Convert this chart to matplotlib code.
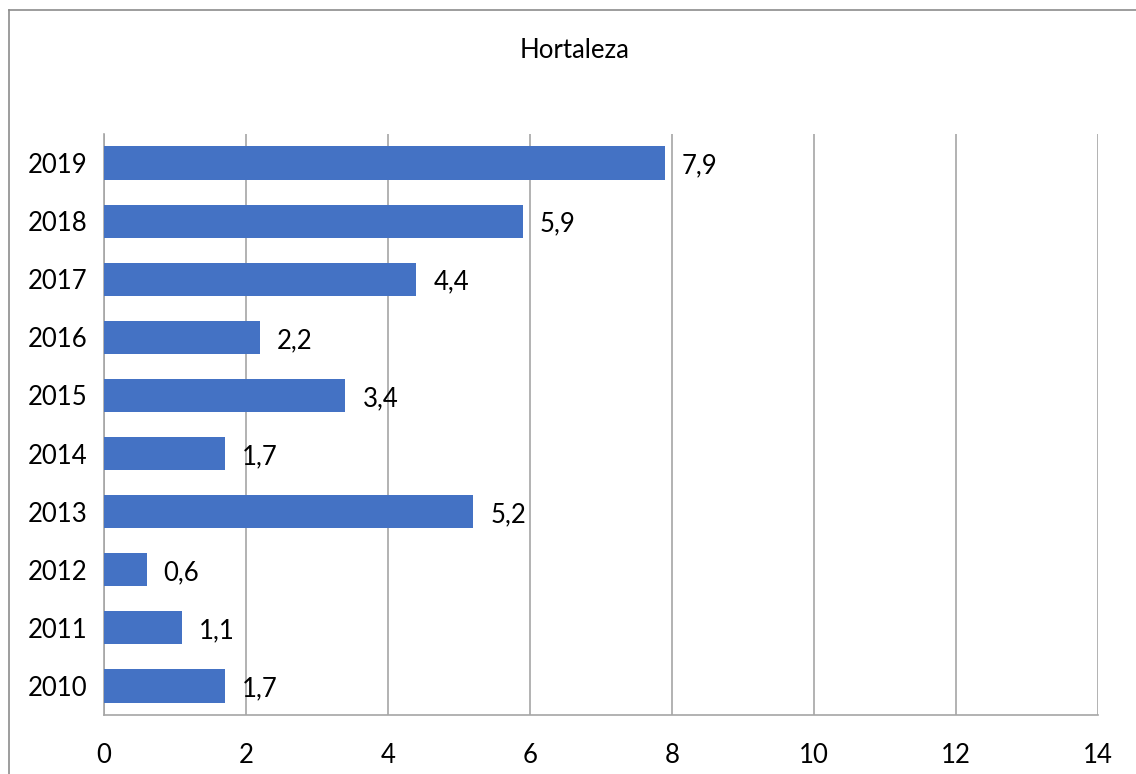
import matplotlib
matplotlib.use("Agg")
import matplotlib.pyplot as plt
from matplotlib.lines import Line2D

years = ["2010", "2011", "2012", "2013", "2014", "2015", "2016", "2017", "2018", "2019"]
values = [1.7, 1.1, 0.6, 5.2, 1.7, 3.4, 2.2, 4.4, 5.9, 7.9]
xticks = [0, 2, 4, 6, 8, 10, 12, 14]
title = "Hortaleza"

plt.rcParams['font.family'] = ['Lato', 'DejaVu Sans']
W, H = 1136, 774
fs = 18.5
fig = plt.figure(figsize=(W / 100, H / 100), dpi=100)
ax = fig.add_axes([104 / W, 1 - 715 / H, (1098 - 104) / W, (715 - 134) / H])

bar_color = "#4472C4"
ax.barh(range(len(years)), values, height=0.57, color=bar_color, zorder=3)
for i, v in enumerate(values):
    ax.annotate(f"{v:.1f}".replace(".", ","), (v, i), xytext=(17, -3), textcoords="offset pixels",
                va="center", ha="left", fontsize=fs, color="#000000", zorder=4)

ax.set_xlim(0, 14)
ax.set_ylim(-0.5, len(years) - 0.5)
ax.set_xticks(xticks)
ax.set_xticklabels([str(t) for t in xticks], fontsize=fs)
ax.set_yticks(range(len(years)))
ax.set_yticklabels(years, fontsize=fs)
ax.tick_params(axis="both", length=0)
ax.tick_params(axis="x", pad=20)
ax.tick_params(axis="y", pad=12)
ax.grid(axis="x", color="#A6A6A6", linewidth=1.2, zorder=0)
for s in ["top", "right"]:
    ax.spines[s].set_visible(False)
for s in ["left", "bottom"]:
    ax.spines[s].set_color("#A6A6A6")
    ax.spines[s].set_linewidth(1.2)

fig.text(575 / W, 1 - 50 / H, title, ha="center", va="center", fontsize=fs)

# outer chart border (left and top visible)
fig.add_artist(Line2D([8.5 / W, 8.5 / W], [0, 1 - 9.5 / H], color="#8C8C8C", linewidth=1.2, transform=fig.transFigure))
fig.add_artist(Line2D([8.5 / W, 1], [1 - 9.5 / H, 1 - 9.5 / H], color="#8C8C8C", linewidth=1.2, transform=fig.transFigure))

fig.savefig("out.png", dpi=100)
